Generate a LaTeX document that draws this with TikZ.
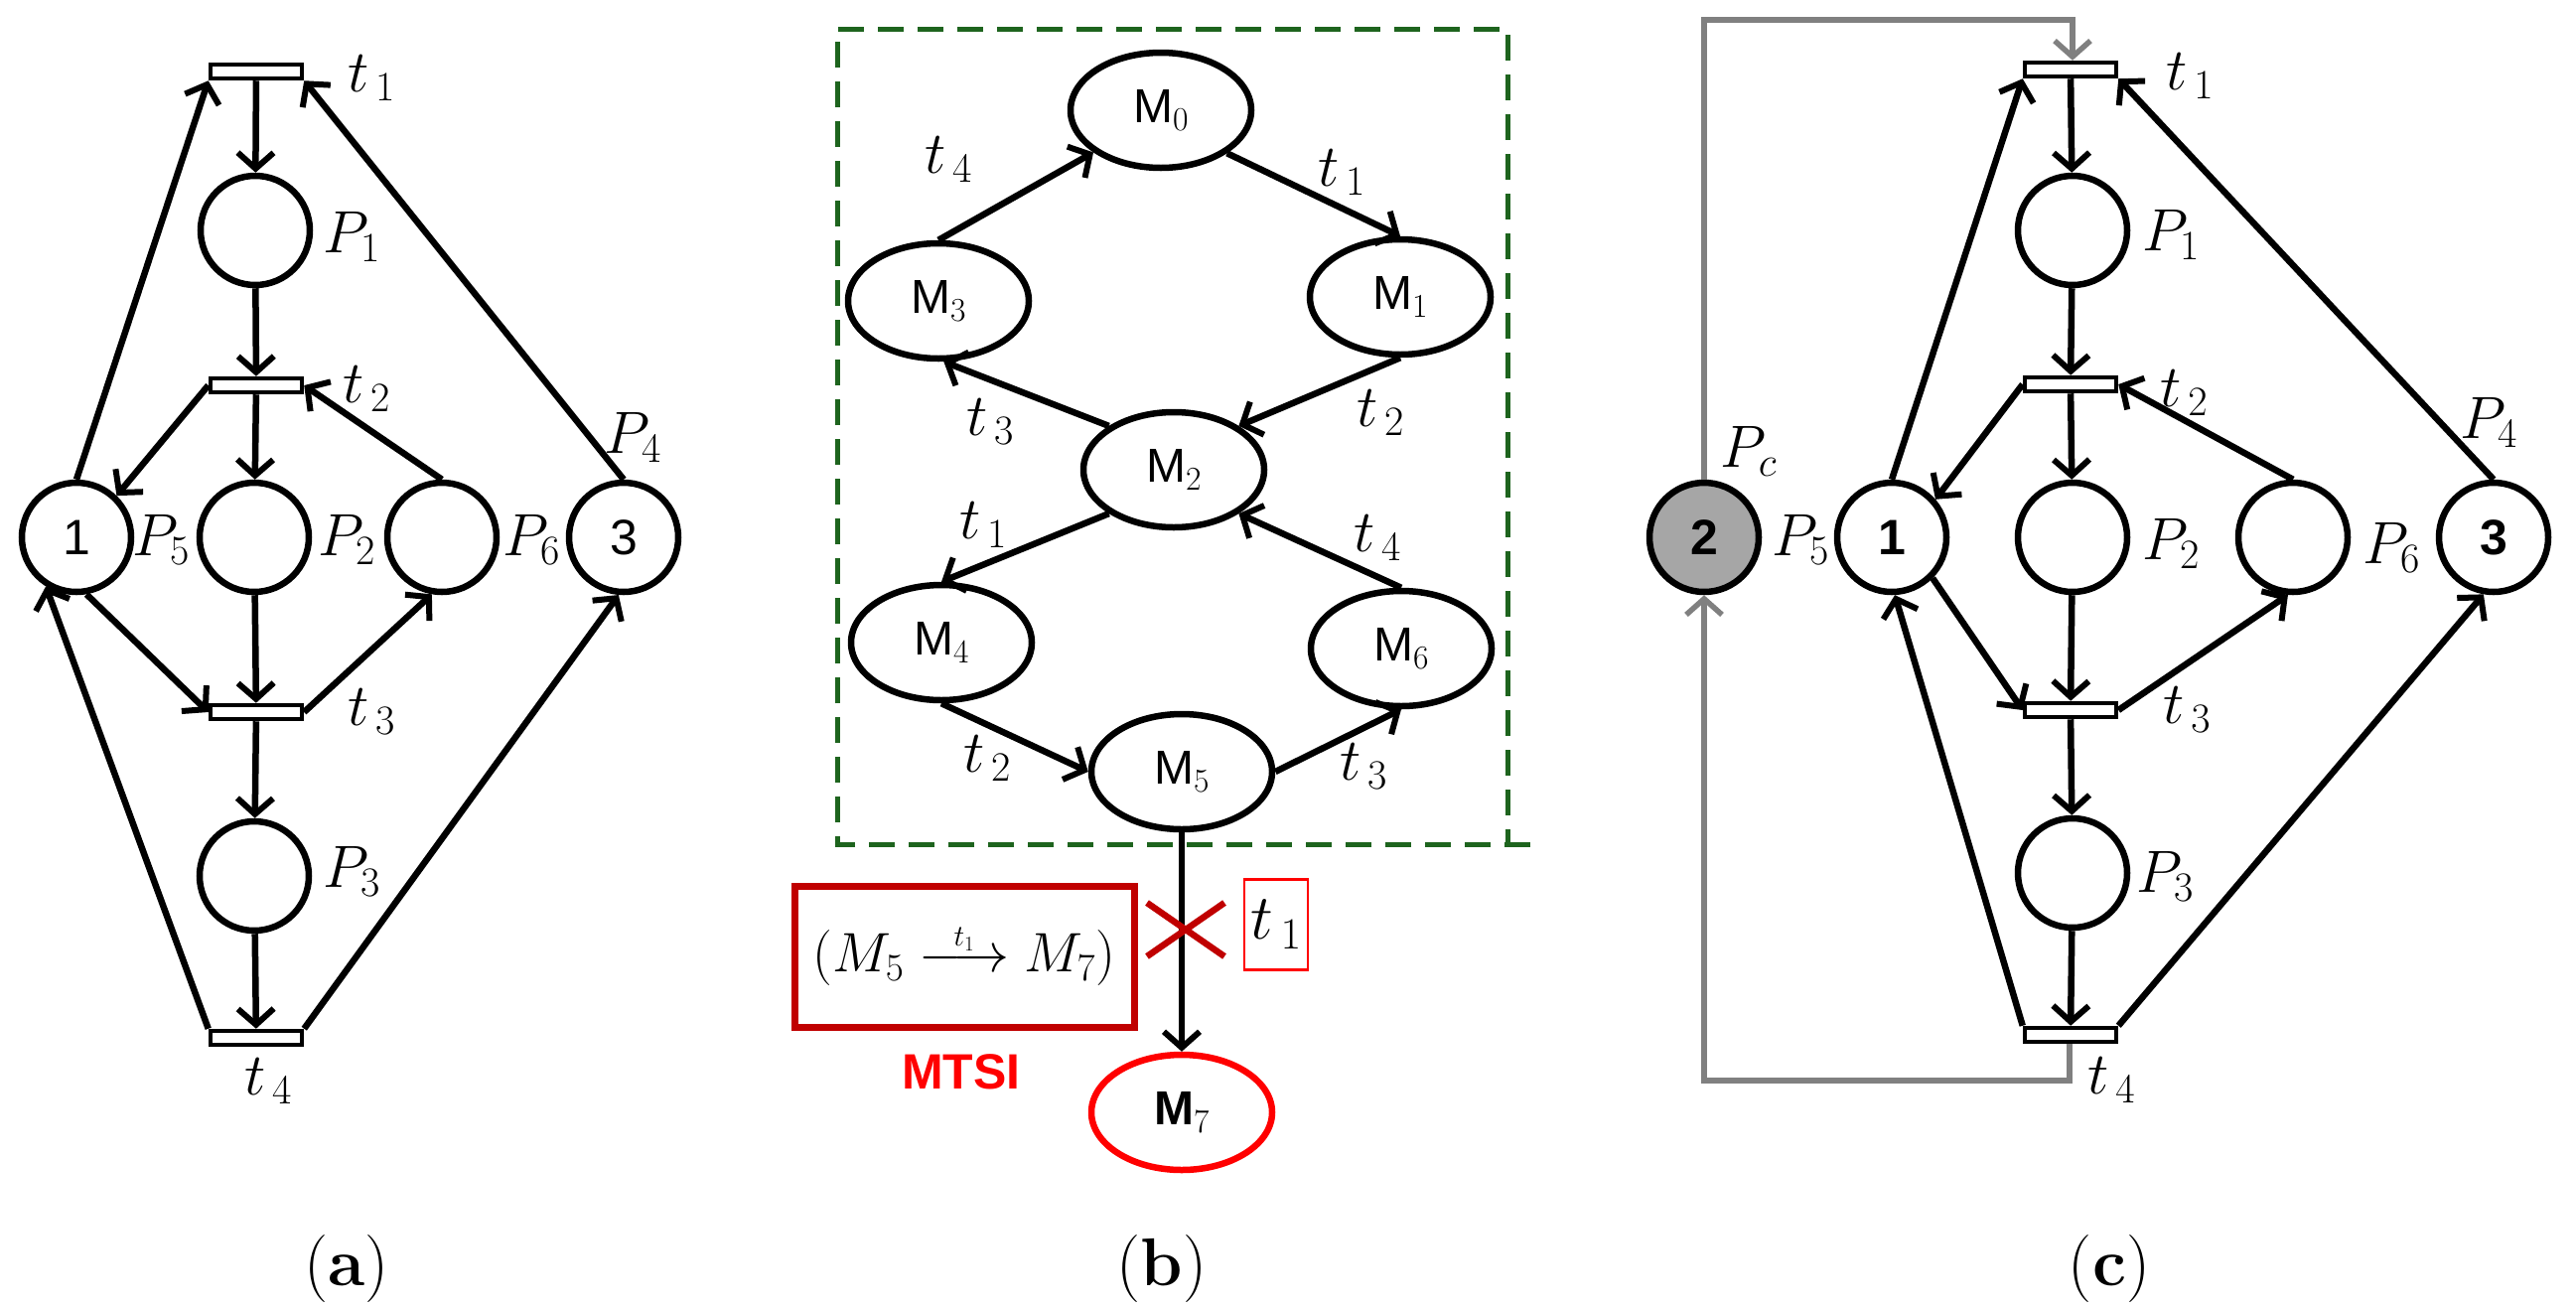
\documentclass[tikz,border=0pt]{standalone}
\usepackage{fix-cm}
\usepackage{fontspec}
\newfontfamily\sansf{Liberation Sans}
\usetikzlibrary{arrows.meta,shapes.geometric}
\definecolor{dred}{RGB}{192,0,0}
\definecolor{dgreen}{RGB}{30,100,30}
\begin{document}
\begin{tikzpicture}[x=1pt,y=-1pt,
  lw/.style={line width=6.5pt},
  arr/.style={lw,-{Straight Barb[length=16pt,width=36pt,line width=6pt]}},
  garr/.style={line width=5.5pt,draw=gray,-{Straight Barb[length=16pt,width=36pt,line width=5.5pt]}},
  place/.style={circle,draw,lw,minimum size=110pt,inner sep=0,font=\sansf\fontsize{50}{54}\selectfont},
  bar/.style={rectangle,draw,line width=4.5pt,fill=white,minimum width=92pt,minimum height=14pt,inner sep=0},
  st/.style={ellipse,draw,lw,minimum width=182pt,minimum height=116pt,inner sep=0,font=\sansf\fontsize{48}{52}\selectfont},
  lab/.style={inner sep=0,font=\fontsize{60}{64}\selectfont},
  captn/.style={inner sep=0,font=\fontsize{68}{72}\selectfont}]
\useasboundingbox (0,0) rectangle (2594,1315);
% ---------- (a) ----------
\node[bar] (t1a) at (258,72) {};
\node[bar] (t2a) at (258,388) {};
\node[bar] (t3a) at (258,717) {};
\node[bar] (t4a) at (258,1045) {};
\node[place] (p1a) at (257,232) {};
\node[place] (p5a) at (77,541) {1};
\node[place] (p2a) at (256,541) {};
\node[place] (p6a) at (445,541) {};
\node[place] (p4a) at (628,541) {3};
\node[place] (p3a) at (256,882) {};
\draw[arr] (t1a) -- (p1a);
\draw[arr] (p1a) -- (t2a);
\draw[arr] (t2a) -- (p2a);
\draw[arr] (p2a) -- (t3a);
\draw[arr] (t3a) -- (p3a);
\draw[arr] (p3a) -- (t4a);
\draw[arr] (p5a.north) -- (t1a.south west);
\draw[arr] (p4a.north) -- (t1a.south east);
\draw[arr] (t2a.west) -- (p5a.46);
\draw[arr] (p6a.north) -- (t2a.east);
\draw[arr] (p5a.-80) -- (t3a.west);
\draw[arr] (t3a.east) -- (p6a.-100);
\draw[arr] (t4a.north west) -- (p5a.-122);
\draw[arr] (t4a.north east) -- (p4a.-95);
\node[lab] (lt1a) at (374,79) {$t_{\,1}$};
\node[lab] (lp1a) at (354,238) {$P_{1}$};
\node[lab] (lt2a) at (369,392) {$t_{\,2}$};
\node[lab] (lp4a) at (637,440) {$P_{4}$};
\node[lab] (lp5a) at (162,543) {$P_{5}$};
\node[lab] (lp2a) at (349,543) {$P_{2}$};
\node[lab] (lp6a) at (535,543) {$P_{6}$};
\node[lab] (lt3a) at (374,717) {$t_{\,3}$};
\node[lab] (lp3a) at (354,877) {$P_{3}$};
\node[lab] (lt4a) at (270,1089) {$t_{\,4}$};
\node[captn] (ca) at (349,1278) {(\textbf{a})};
% ---------- (b) ----------
\draw[dgreen,line width=5pt,dash pattern=on 26pt off 14pt]
  (1541,850) -- (843,850) -- (843,29) -- (1518,29) -- (1518,850);
\node[st] (m0) at (1169,111) {M$_0$};
\node[st] (m3) at (945,303) {M$_3$};
\node[st] (m1) at (1410,299) {M$_1$};
\node[st] (m2) at (1182,473) {M$_2$};
\node[st] (m4) at (948,647) {M$_4$};
\node[st] (m6) at (1411,653) {M$_6$};
\node[st] (m5) at (1190,777) {M$_5$};
\node[st,draw=red,font=\sansf\bfseries\fontsize{48}{52}\selectfont] (m7) at (1190,1120) {M$_7$};
\draw[arr] (m3.north) -- (m0.212);
\draw[arr] (m0.-33) -- (m1.north);
\draw[arr] (m1.south) -- (m2.34);
\draw[arr] (m2.146) -- (m3.-85);
\draw[arr] (m2.-146) -- (m4.north);
\draw[arr] (m6.north) -- (m2.-34);
\draw[arr] (m4.south) -- (m5.west);
\draw[arr] (m5.east) -- (m6.south);
\draw[arr] (m5.south) -- (m7.north);
\node[lab] (b1) at (955,161) {$t_{\,4}$};
\node[lab] (b2) at (1351,174) {$t_{\,1}$};
\node[lab] (b3) at (997,425) {$t_{\,3}$};
\node[lab] (b4) at (1390,416) {$t_{\,2}$};
\node[lab] (b5) at (990,529) {$t_{\,1}$};
\node[lab] (b6) at (1387,542) {$t_{\,4}$};
\node[lab] (b7) at (994,764) {$t_{\,2}$};
\node[lab] (b8) at (1373,772) {$t_{\,3}$};
\coordinate (xa) at (1155,909);
\coordinate (xb) at (1233,963);
\coordinate (xc) at (1155,963);
\coordinate (xd) at (1233,909);
\draw[dred,line width=6.5pt] (xa) -- (xb);
\draw[dred,line width=6.5pt] (xc) -- (xd);
\node[draw=red,line width=2.5pt,minimum width=64pt,minimum height=91pt,inner sep=0,font=\fontsize{64}{68}\selectfont] (tb) at (1285,931) {$t_{\,1}$};
\node[draw=dred,line width=7pt,minimum width=342pt,minimum height=142pt,inner sep=0,font=\fontsize{56}{60}\selectfont] (rb) at (971,963) {$(M_{5}\mathrel{\mathop{\longrightarrow}\limits^{\raisebox{-6pt}{\fontsize{30}{32}\selectfont$t_1$}}}M_{7})$};
\node[inner sep=0,text=red,font=\sansf\bfseries\fontsize{50}{52}\selectfont] (mt) at (968,1079) {MTSI};
\node[captn] (cb) at (1170,1278) {(\textbf{b})};
% ---------- (c) ----------
\node[bar] (t1c) at (2085,70) {};
\node[bar] (t2c) at (2085,387) {};
\node[bar] (t3c) at (2085,715) {};
\node[bar] (t4c) at (2085,1042) {};
\node[place] (p1c) at (2087,232) {};
\node[place,fill={rgb,255:red,166;green,166;blue,166},font=\sansf\bfseries\fontsize{50}{54}\selectfont] (pcc) at (1716,541) {2};
\node[place,font=\sansf\bfseries\fontsize{50}{54}\selectfont] (p5c) at (1905,541) {1};
\node[place] (p2c) at (2087,541) {};
\node[place] (p6c) at (2309,541) {};
\node[place,font=\sansf\bfseries\fontsize{50}{54}\selectfont] (p4c) at (2511,541) {3};
\node[place] (p3c) at (2087,879) {};
\draw[arr] (t1c) -- (p1c);
\draw[arr] (p1c) -- (t2c);
\draw[arr] (t2c) -- (p2c);
\draw[arr] (p2c) -- (t3c);
\draw[arr] (t3c) -- (p3c);
\draw[arr] (p3c) -- (t4c);
\draw[arr] (p5c.north) -- (t1c.south west);
\draw[arr] (p4c.north) -- (t1c.south east);
\draw[arr] (t2c.west) -- (p5c.41);
\draw[arr] (p6c.north) -- (t2c.east);
\draw[arr] (p5c.-45) -- (t3c.west);
\draw[arr] (t3c.east) -- (p6c.-95);
\draw[arr] (t4c.north west) -- (p5c.-87);
\draw[arr] (t4c.north east) -- (p4c.-100);
\coordinate (g1) at (1716,20);
\coordinate (g2) at (2087,20);
\coordinate (g3) at (2084,1088);
\coordinate (g4) at (1716,1088);
\draw[garr] (pcc.north) -- (g1) -- (g2) -- (t1c.north -| g2);
\draw[garr] (t4c.south -| g3) -- (g3) -- (g4) -- (pcc.south);
\node[lab] (lpcc) at (1761,454) {$P_{c}$};
\node[lab] (lp5c) at (1813,543) {$P_{5}$};
\node[lab] (lt1c) at (2205,77) {$t_{\,1}$};
\node[lab] (lp1c) at (2186,236) {$P_{1}$};
\node[lab] (lt2c) at (2199,396) {$t_{\,2}$};
\node[lab] (lp4c) at (2506,425) {$P_{4}$};
\node[lab] (lp2c) at (2186,547) {$P_{2}$};
\node[lab] (lp6c) at (2408,551) {$P_{6}$};
\node[lab] (lt3c) at (2202,715) {$t_{\,3}$};
\node[lab] (lp3c) at (2180,882) {$P_{3}$};
\node[lab] (lt4c) at (2126,1088) {$t_{\,4}$};
\node[captn] (cc) at (2124,1278) {(\textbf{c})};
\end{tikzpicture}
\end{document}
